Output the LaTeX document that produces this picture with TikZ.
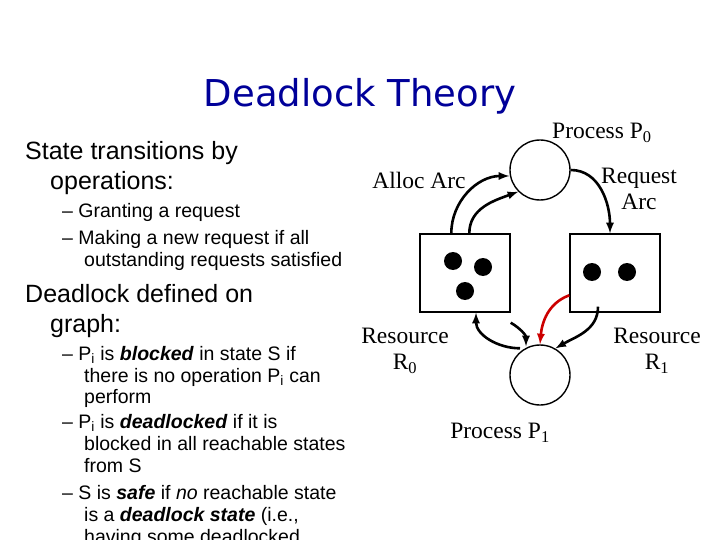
\documentclass[tikz,border=0pt]{standalone}
\usepackage{fontspec}
\setmainfont{Liberation Serif}
\setsansfont{Liberation Sans}
\newfontfamily\titlefont{DejaVu Sans}
\begin{document}
\begin{tikzpicture}[x=1pt,y=-1pt,
  txt/.style={anchor=base west,inner sep=0,font=\sffamily\fontsize{25}{25}\selectfont},
  sub/.style={anchor=base west,inner sep=0,font=\sffamily\fontsize{19.5}{19.5}\selectfont},
  lbl/.style={align=center,inner sep=0,font=\fontsize{23.5}{26}\selectfont},
  proc/.style={draw,circle,minimum size=60pt,inner sep=0,line width=1.4pt},
  res/.style={draw,minimum width=90pt,minimum height=78pt,inner sep=0,line width=1.4pt},
  tok/.style={fill,circle,minimum size=18pt,inner sep=0},
  arc/.style={-latex,line width=2.6pt}]
\useasboundingbox (0,0) rectangle (720,540);
\clip (0,0) rectangle (720,540);
\node[inner sep=0,text=blue!60!black,font=\titlefont\fontsize{37}{37}\selectfont,anchor=base] (title) at (360,107) {Deadlock Theory};
\node[txt] (l1) at (25,160) {State transitions by};
\node[txt] (l2) at (50,190) {operations:};
\node[sub] (l3) at (62,218) {– Granting a request};
\node[sub] (l4) at (62,244) {– Making a new request if all};
\node[sub] (l5) at (84,266) {outstanding requests satisfied};
\node[txt] (l6) at (25,302) {Deadlock defined on};
\node[txt] (l7) at (50,332) {graph:};
\node[sub] (l8) at (62,360) {– P\textsubscript{i} is \textbf{\textit{blocked}} in state S if};
\node[sub] (l9) at (84,382) {there is no operation P\textsubscript{i} can};
\node[sub] (l10) at (84,403) {perform};
\node[sub] (l11) at (62,428) {– P\textsubscript{i} is \textbf{\textit{deadlocked}} if it is};
\node[sub] (l12) at (84,450) {blocked in all reachable states};
\node[sub] (l13) at (84,472) {from S};
\node[sub] (l14) at (62,499) {– S is \textbf{\textit{safe}} if \textit{no} reachable state};
\node[sub] (l15) at (84,521) {is a \textbf{\textit{deadlock state}} (i.e.,};
\node[sub] (l16) at (84,543) {having some deadlocked};
% graph
\node[proc] (p0) at (540,170) {};
\node[proc] (p1) at (540,375) {};
\node[res] (r0) at (465,273) {};
\node[res] (r1) at (615,273) {};
\node[tok] (t1) at (453,261) {};
\node[tok] (t2) at (483,267) {};
\node[tok] (t3) at (465,291) {};
\node[tok] (t4) at (592,272) {};
\node[tok] (t5) at (627,272) {};
\node[lbl,anchor=west] (lp0) at (552,133) {Process P\textsubscript{0}};
\node[lbl] (lp1) at (500,433) {Process P\textsubscript{1}};
\node[lbl] (la) at (419,180) {Alloc Arc};
\node[lbl] (lr) at (639,189) {Request\\Arc};
\node[lbl] (lr0) at (405,351) {Resource\\R\textsubscript{0}};
\node[lbl] (lr1) at (657,351) {Resource\\R\textsubscript{1}};
\draw[arc] (r0.north west)++(32,0) coordinate (a1) to[out=90,in=180,looseness=1] (p0.west|-0,176);
\draw[arc] (r0.north west)++(50,0) coordinate (a2) to[out=90,in=200] (p0.south west);
\draw[arc] (p0.east) to[out=0,in=90] ([xshift=-5pt]r1.north);
\draw[arc] ([yshift=-10pt]r0.south east) to[out=-30,in=90] ([xshift=-14pt,yshift=-2pt]p1.north);
\draw[arc] ([xshift=-20pt,yshift=-4pt]p1.north) to[out=180,in=-90] ([xshift=11pt]r0.south);
\draw[arc,red!80!black] ([yshift=-62pt]r1.north west) to[out=200,in=85] (p1.north);
\draw[arc] ([xshift=-17pt,yshift=6pt]r1.south) to[out=-90,in=30] (p1.60);
\end{tikzpicture}
\end{document}
